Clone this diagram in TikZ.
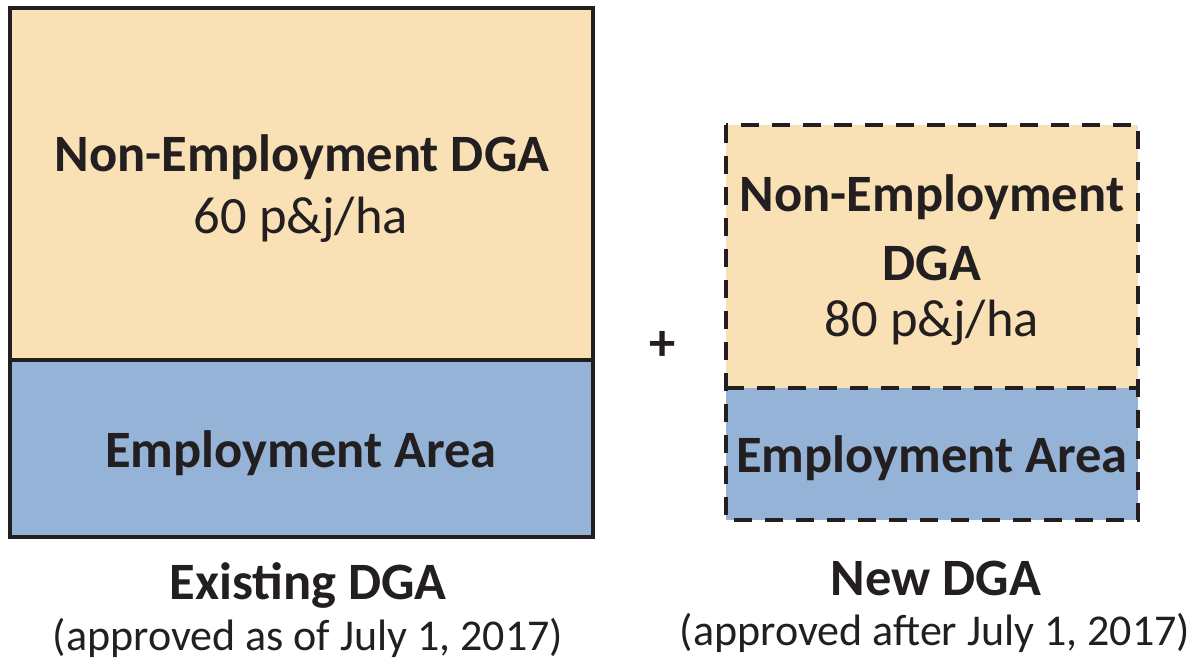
\documentclass[tikz,border=0pt]{standalone}
\usepackage{fontspec}
\setmainfont{Carlito}
\definecolor{sand}{HTML}{F9E0B5}
\definecolor{steel}{HTML}{95B3D7}
\definecolor{ink}{HTML}{231F20}
\begin{document}
\begin{tikzpicture}[x=1pt, y=-1pt, ink,
    area/.style = {draw=ink, line width=3.5pt},
    newarea/.style = {draw=ink, line width=4.5pt, dash pattern=on 18pt off 13pt},
    title/.style = {font=\fontsize{52.5}{56}\selectfont\bfseries, text=ink},
    rate/.style = {font=\fontsize{52.5}{56}\selectfont, text=ink},
    caption/.style = {font=\fontsize{44}{48}\selectfont, text=ink}]
    \useasboundingbox (0,0) rectangle (1194,666);

    % existing DGA
    \fill[sand] (10,8) rectangle (593,360);
    \fill[steel] (10,360) rectangle (593,537);
    \draw[area] (10,8) rectangle (593,537);
    \draw[area] (10,360) -- (593,360);
    \node[title] (nonemp) at (302,157) {Non-Employment DGA};
    \node[rate] (rate60) at (301,220) {60 p\&j/ha};
    \node[title] (emp) at (301,453) {Employment Area};
    \node[title] (exist) at (308,585) {Existing DGA};
    \node[caption] (exnote) at (308,638) {(approved as of July 1, 2017)};

    \node[title] (plus) at (663,346) {+};

    % new DGA
    \fill[sand] (726,125) rectangle (1138,388);
    \fill[steel] (726,388) rectangle (1138,520);
    \draw[newarea] (726,125) rectangle (1138,520);
    \draw[newarea] (726,388) -- (1138,388);
    \node[title] (newnon) at (932,197) {Non-Employment};
    \node[title] (newdga) at (932,263) {DGA};
    \node[rate] (rate80) at (932,323) {80 p\&j/ha};
    \node[title] (newemp) at (932,458) {Employment Area};
    \node[title] (newt) at (936,578) {New DGA};
    \node[caption] (newnote) at (935,633) {(approved after July 1, 2017)};
\end{tikzpicture}
\end{document}
